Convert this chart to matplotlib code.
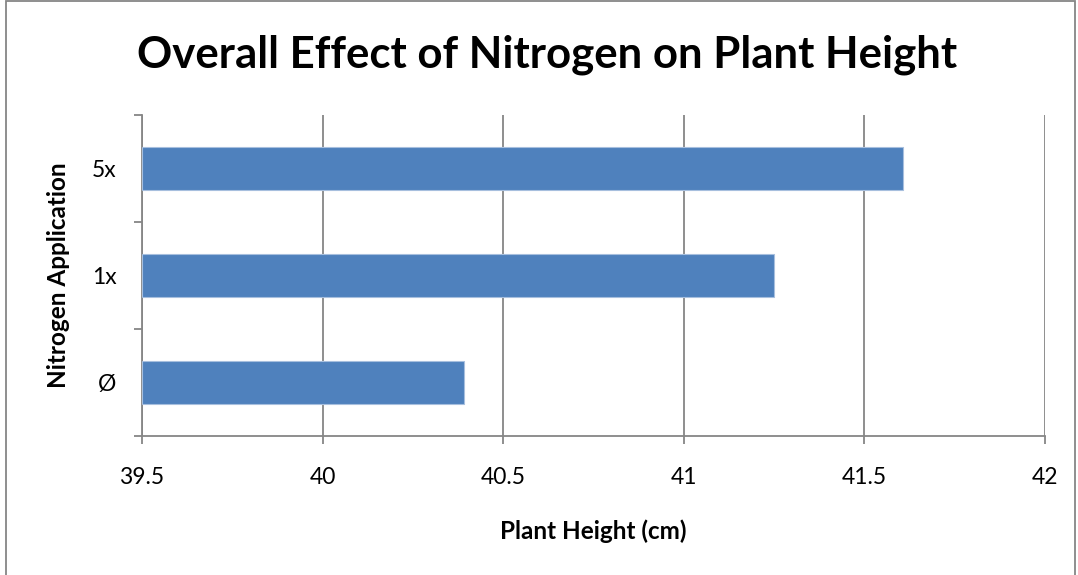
import matplotlib
matplotlib.use('Agg')
import matplotlib.pyplot as plt
from matplotlib.patches import Rectangle

# data
categories = ['Ø', '1x', '5x']
heights = [40.393, 41.251, 41.609]
x_ticks = [39.5, 40, 40.5, 41, 41.5, 42]
x_tick_labels = ['39.5', '40', '40.5', '41', '41.5', '42']

plt.rcParams['font.family'] = ['Lato', 'DejaVu Sans']

grid_col = '#868686'
bar_col = '#4F81BD'

f = plt.figure(figsize=(10.78, 5.75), dpi=100)
ax = f.add_axes([142 / 1078, 1 - 436 / 575, (1044.5 - 142) / 1078, (436 - 115) / 575])

ypos = list(range(len(categories)))
ax.barh(ypos, [h - 39.5 for h in heights], left=39.5, height=0.4,
        color=bar_col, edgecolor='#A7BFDE', linewidth=0.8, zorder=3)

ax.set_xlim(39.5, 42)
ax.set_ylim(-0.5, 2.5)
ax.set_xticks(x_ticks)
ax.set_xticklabels(x_tick_labels, fontsize=16.5)
ax.set_yticks(ypos)
ax.set_yticklabels(categories, fontsize=16.5)
ax.set_yticks([-0.5, 0.5, 1.5, 2.5], minor=True)
ax.tick_params(axis='y', which='major', length=0, pad=18.5)
ax.tick_params(axis='y', which='minor', length=5.8, width=1.3, color=grid_col)
ax.tick_params(axis='x', which='major', length=5.8, width=1.3, color=grid_col, pad=16.5)

ax.grid(axis='x', color=grid_col, linewidth=1.3, zorder=0)
for s in ['top', 'right']:
    ax.spines[s].set_visible(False)
for s in ['left', 'bottom']:
    ax.spines[s].set_color(grid_col)
    ax.spines[s].set_linewidth(1.3)

ax.set_xlabel('Plant Height (cm)', fontsize=17.5, fontweight='bold', va='center')
ax.xaxis.set_label_coords(0.5, (436 - 531) / 321)
ax.set_ylabel('Nitrogen Application', fontsize=17.5, fontweight='bold', va='center')
ax.yaxis.set_label_coords((58.5 - 142) / 902.5, (436 - 275) / 321)

f.text(547 / 1078, 1 - 55 / 575, 'Overall Effect of Nitrogen on Plant Height',
       fontsize=31.5, fontweight='bold', ha='center', va='center')

# outer chart border
f.add_artist(Rectangle((5.5 / 1078, -0.05), (1075 - 5.5) / 1078, 1.05 - 1.5 / 575,
                       transform=f.transFigure, fill=False, edgecolor='#868686', linewidth=1.3))

plt.savefig('out.png', dpi=100)
